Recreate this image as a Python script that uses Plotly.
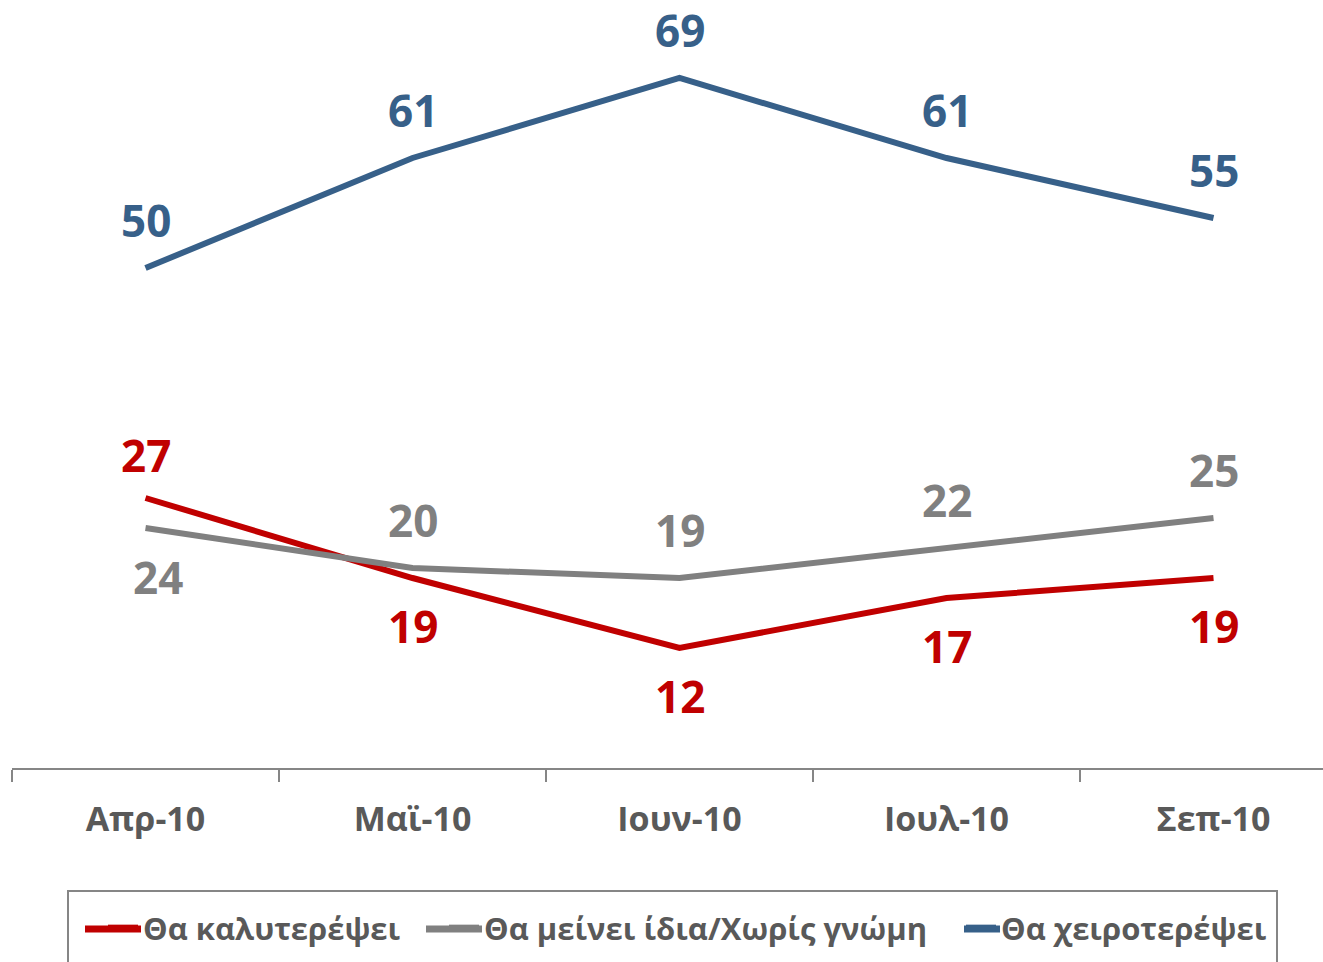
import plotly.graph_objects as go

categories = ["Απρ-10", "Μαϊ-10", "Ιουν-10", "Ιουλ-10", "Σεπ-10"]
better = [27, 19, 12, 17, 19]
same = [24, 20, 19, 22, 25]
worse = [50, 61, 69, 61, 55]

series_names = ["Θα καλυτερέψει", "Θα μείνει ίδια/Χωρίς γνώμη", "Θα χειροτερέψει"]
series_values = [better, same, worse]
series_colors = ["#C00000", "#808080", "#376089"]
# label placement (pixels) per point: (xshift, yshift)
label_shifts = [
    [(0, 43), (0, -48), (0, -48), (0, -48), (0, -48)],
    [(12, -49), (0, 48), (0, 48), (0, 48), (0, 48)],
    [(0, 48), (0, 48), (0, 48), (0, 48), (0, 48)],
]
# legend layout (page pixels): text left edge, key line start/end
legend_text_x = [145, 486, 1003]
legend_key_x = [(85, 141), (426, 482), (964, 1000)]
LEGEND_KEY_Y = 929

FONT = "Open Sans"
W, H = 1323, 962
ML, MB = 12, 194
PX_PER_CAT = 267.0
PX_PER_UNIT = 10.0
plot_w = W - ML
plot_h = H - MB


def px_x(p):
    return (p - ML) / plot_w


def px_y(p):
    return (plot_h - p) / plot_h


legend_ids = ["legend", "legend2", "legend3"]

fig = go.Figure()
for name, vals, col, lid in zip(series_names, series_values, series_colors, legend_ids):
    fig.add_trace(go.Scatter(
        x=categories, y=vals, name=name, mode="lines",
        line=dict(color=col, width=6),
        hoverinfo="skip", legend=lid,
    ))

for vals, col, shifts in zip(series_values, series_colors, label_shifts):
    for c, v, (dx, dy) in zip(categories, vals, shifts):
        fig.add_annotation(
            x=c, y=v, text=str(v), showarrow=False,
            xshift=dx, yshift=dy, xanchor="center", yanchor="middle",
            font=dict(family=FONT, size=44, color=col, weight="bold"),
        )

# legend frame
fig.add_shape(
    type="rect", xref="paper", yref="paper",
    x0=px_x(68), x1=px_x(1277), y0=px_y(980), y1=px_y(891),
    line=dict(color="#868686", width=2), fillcolor="rgba(0,0,0,0)", layer="below",
)
# longer legend keys, drawn over the legend's own key lines
for (k0, k1), col in zip(legend_key_x, series_colors):
    fig.add_shape(
        type="line", xref="paper", yref="paper",
        x0=px_x(k0), x1=px_x(k1), y0=px_y(LEGEND_KEY_Y), y1=px_y(LEGEND_KEY_Y),
        line=dict(color=col, width=7), layer="above",
    )

legend_common = dict(
    orientation="h", xanchor="left", yanchor="top",
    y=px_y(901),
    font=dict(family=FONT, size=31, color="#595959", weight="bold"),
    itemwidth=30, bgcolor="rgba(0,0,0,0)", borderwidth=0,
)

fig.update_layout(
    width=W, height=H,
    margin=dict(l=ML, r=0, t=0, b=MB, autoexpand=False),
    paper_bgcolor="white", plot_bgcolor="white",
    font=dict(family=FONT, color="#595959"),
    xaxis=dict(
        type="category",
        range=[-0.5, -0.5 + plot_w / PX_PER_CAT],
        showline=True, linecolor="#868686", linewidth=2,
        ticks="outside", tickson="boundaries", ticklen=12, tickcolor="#868686", tickwidth=2,
        tickfont=dict(family=FONT, size=34, color="#595959", weight="bold"),
        showgrid=False, zeroline=False,
        ticklabelstandoff=20,
        fixedrange=True,
    ),
    yaxis=dict(
        range=[0, plot_h / PX_PER_UNIT],
        visible=False, showgrid=False, zeroline=False, fixedrange=True,
    ),
    showlegend=True,
    legend=dict(x=px_x(legend_text_x[0] - 42), **legend_common),
    legend2=dict(x=px_x(legend_text_x[1] - 42), **legend_common),
    legend3=dict(x=px_x(legend_text_x[2] - 42), **legend_common),
)

fig.write_html(
    "out.html",
    config={"displayModeBar": False},
    post_script="document.body.style.margin='0';",
)
